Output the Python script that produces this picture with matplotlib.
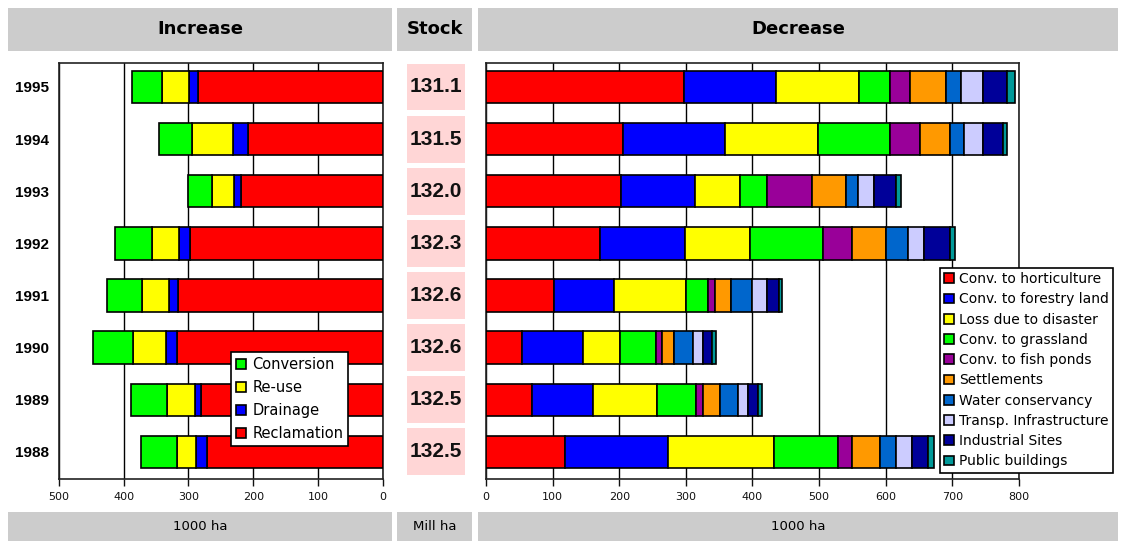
import numpy as np
import matplotlib
matplotlib.use("Agg")
import matplotlib.pyplot as plt
from matplotlib.patches import Rectangle

# ==========================================
# 1. DATA (1000 ha)
# ==========================================
years = [1995, 1994, 1993, 1992, 1991, 1990, 1989, 1988]
stock = [131.1, 131.5, 132.0, 132.3, 132.6, 132.6, 132.5, 132.5]

# increase (drawn from 0 outwards)
reclamation = [285, 208, 219, 298, 316, 317, 280, 272]
drainage    = [14, 23, 10, 16, 14, 18, 10, 16]
reuse       = [42, 64, 34, 42, 42, 50, 43, 29]
conversion  = [47, 51, 37, 57, 54, 62, 56, 57]

# decrease
horticulture = [298, 205, 202, 171, 102, 54, 69, 118]
forestry     = [137, 154, 112, 128, 90, 91, 92, 156]
disaster     = [125, 140, 68, 97, 109, 56, 96, 158]
grassland    = [46, 108, 40, 110, 32, 54, 59, 96]
fish_ponds   = [30, 45, 67, 43, 11, 9, 10, 21]
settlements  = [54, 45, 52, 51, 24, 19, 25, 42]
water        = [23, 21, 17, 33, 31, 28, 28, 25]
transport    = [33, 28, 24, 24, 23, 15, 14, 24]
industrial   = [36, 31, 33, 40, 18, 14, 15, 24]
public       = [12, 5, 8, 7, 5, 5, 6, 8]

inc_labels = ["Reclamation", "Drainage", "Re-use", "Conversion"]
inc_colors = ["#ff0000", "#0000ff", "#ffff00", "#00ff00"]

dec_labels = ["Conv. to horticulture", "Conv. to forestry land", "Loss due to disaster",
              "Conv. to grassland", "Conv. to fish ponds", "Settlements",
              "Water conservancy", "Transp. Infrastructure", "Industrial Sites",
              "Public buildings"]
dec_colors = ["#ff0000", "#0000ff", "#ffff00", "#00ff00", "#990099", "#ff9900",
              "#0066cc", "#ccccff", "#000099", "#009999"]

# ==========================================
# 2. LAYOUT HELPERS (pixel boxes -> figure coords)
# ==========================================
W, H = 1122, 541
GRAY = "#cccccc"


def px_rect(x0, y0, x1, y1):
    return [x0 / W, 1 - y1 / H, (x1 - x0) / W, (y1 - y0) / H]


fig = plt.figure(figsize=(W / 100, H / 100), dpi=100)
fig.patch.set_facecolor("white")


def header(x0, y0, x1, y1, text, **kw):
    l, b, w, h = px_rect(x0, y0, x1, y1)
    fig.add_artist(Rectangle((l, b), w, h, transform=fig.transFigure,
                             facecolor=GRAY, edgecolor="none"))
    fig.text(l + w / 2, b + h / 2, text, ha="center", va="center", **kw)


hdr_font = dict(fontsize=13, fontweight="bold", family="DejaVu Sans")
unit_font = dict(fontsize=9.5, family="DejaVu Sans")

header(8, 8, 392, 51, "Increase", **hdr_font)
header(397, 8, 472, 51, "Stock", **hdr_font)
header(478, 8, 1118, 51, "Decrease", **hdr_font)
header(8, 512, 392, 541, "1000 ha", **unit_font)
header(397, 512, 472, 541, "Mill ha", **unit_font)
header(478, 512, 1118, 541, "1000 ha", **unit_font)

ypos = np.arange(len(years))[::-1]   # 1995 on top
bar_h = 0.62
ylim = (-0.52, 7.46)


def style_axis(ax):
    ax.set_ylim(*ylim)
    ax.set_axisbelow(True)
    ax.xaxis.grid(True, color="black", linewidth=1)
    ax.yaxis.grid(False)
    for s in ax.spines.values():
        s.set_linewidth(1.2)
        s.set_color("#222222")
    ax.tick_params(axis="x", direction="out", length=5, width=1,
                   labelsize=8, colors="#111111", pad=4)


# ==========================================
# 3. INCREASE PANEL
# ==========================================
ax_l = fig.add_axes(px_rect(59, 63, 382.7, 479))
inc_data = [reclamation, drainage, reuse, conversion]
left = np.zeros(len(years))
inc_handles = []
for vals, col, lab in zip(inc_data, inc_colors, inc_labels):
    b = ax_l.barh(ypos, vals, left=left, height=bar_h, color=col,
                  edgecolor="black", linewidth=1.2, label=lab, zorder=3)
    inc_handles.append(b)
    left += np.array(vals)
ax_l.set_xlim(500, 0)
ax_l.set_xticks([500, 400, 300, 200, 100, 0])
ax_l.set_yticks(ypos)
ax_l.set_yticklabels([str(y) for y in years], fontsize=11, fontweight="bold",
                     family="Liberation Sans")
ax_l.tick_params(axis="y", length=0, pad=7)
style_axis(ax_l)

leg_l = fig.legend(inc_handles[::-1], inc_labels[::-1], loc="upper left",
                   bbox_to_anchor=(231 / W, 1 - 352 / H), frameon=True,
                   fancybox=False, fontsize=10.5, handlelength=0.7, handleheight=0.7,
                   handletextpad=0.4, labelspacing=0.55, borderpad=0.35,
                   borderaxespad=0, framealpha=1)
leg_l.get_frame().set_edgecolor("black")
leg_l.get_frame().set_linewidth(1.2)

# ==========================================
# 4. STOCK COLUMN
# ==========================================
ax_s = fig.add_axes(px_rect(397, 63, 472, 479))
ax_s.barh(ypos, 0.77, left=0.13, height=0.9, color="#ffd6d6", edgecolor="none")
for y, v in zip(ypos, stock):
    ax_s.text(0.515, y, f"{v:.1f}", ha="center", va="center", fontsize=15,
              fontweight="bold", family="Liberation Sans", color="#111111")
ax_s.set_xlim(0, 1)
ax_s.set_ylim(*ylim)
ax_s.axis("off")

# ==========================================
# 5. DECREASE PANEL
# ==========================================
ax_r = fig.add_axes(px_rect(486, 63, 1018.8, 479))
dec_data = [horticulture, forestry, disaster, grassland, fish_ponds, settlements,
            water, transport, industrial, public]
left = np.zeros(len(years))
dec_handles = []
for vals, col, lab in zip(dec_data, dec_colors, dec_labels):
    b = ax_r.barh(ypos, vals, left=left, height=bar_h, color=col,
                  edgecolor="black", linewidth=1.2, label=lab, zorder=3)
    dec_handles.append(b)
    left += np.array(vals)
ax_r.set_xlim(0, 800)
ax_r.set_xticks(np.arange(0, 900, 100))
ax_r.set_yticks([])
style_axis(ax_r)

leg_r = fig.legend(dec_handles, dec_labels, loc="upper left",
                   bbox_to_anchor=(940 / W, 1 - 268 / H), frameon=True,
                   fancybox=False, fontsize=10, handlelength=0.7, handleheight=0.7,
                   handletextpad=0.4, labelspacing=0.45, borderpad=0.3,
                   borderaxespad=0, framealpha=1)
leg_r.get_frame().set_edgecolor("black")
leg_r.get_frame().set_linewidth(1.2)

fig.savefig("out.png", dpi=100)
